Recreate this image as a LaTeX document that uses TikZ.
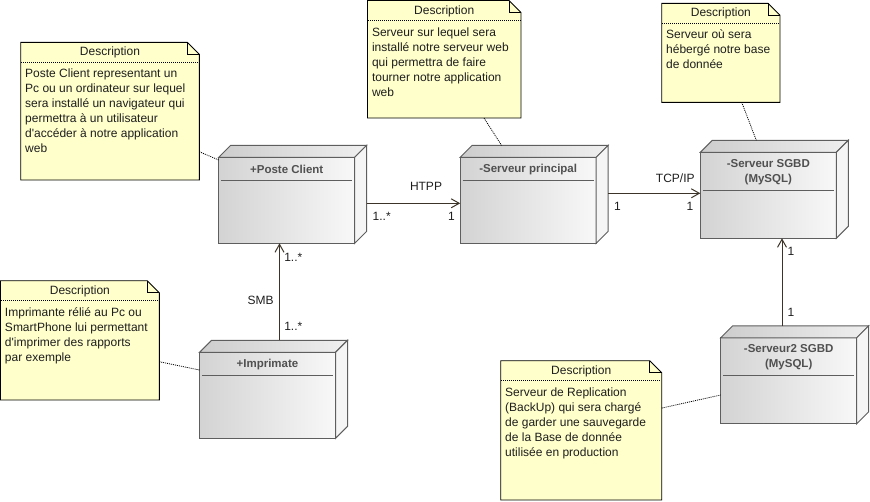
\documentclass[tikz,border=0pt]{standalone}
\usepackage{fontspec}
\setmainfont{Liberation Sans}
\newfontfamily\diagfont{Liberation Sans}
\usetikzlibrary{calc,arrows.meta}
\definecolor{notefill}{HTML}{FFFFCC}
\definecolor{edgec}{HTML}{5E5E5E}
\definecolor{linec}{HTML}{3C3428}
\definecolor{txtc}{HTML}{1E1E1E}
\definecolor{titlec}{HTML}{505050}
\definecolor{frontL}{HTML}{D3D3D3}
\definecolor{frontR}{HTML}{F8F8F8}
\definecolor{topL}{HTML}{CDCDCD}
\definecolor{topR}{HTML}{EFEFEF}
\definecolor{sidec}{HTML}{F5F5F5}
\tikzset{
  x=1pt, y=-1pt,
  every node/.style={font=\diagfont\fontsize{12}{15}\selectfont, text=txtc, inner sep=0pt, outer sep=0pt},
  front/.style={draw=edgec, line width=1pt, left color=frontL, right color=frontR,
    minimum width=136pt, minimum height=86pt},
  topface/.style={draw=edgec, line width=1pt, left color=topL, right color=topR},
  sideface/.style={draw=edgec, line width=1pt, fill=sidec},
  hline/.style={draw=edgec, line width=1pt},
  title/.style={font=\diagfont\fontsize{11.5}{15}\selectfont\bfseries, text=titlec, align=center},
  notebase/.style={inner sep=0pt},
  noteshape/.style={draw=black, line width=0.9pt, fill=notefill},
  notesep/.style={draw=black, line width=0.8pt, dash pattern=on 1pt off 1pt},
  notetext/.style={anchor=north west, align=left},
  dotlink/.style={draw=black, line width=0.8pt, dash pattern=on 1pt off 1pt},
  assoc/.style={draw=linec, line width=1pt, -{Straight Barb[length=8pt,width=9pt]}},
  mult/.style={},
}
% name, center, title, header-line offset, title offset
\newcommand\depnode[5]{%
  \node[front] (#1) at (#2) {};
  \draw[topface] (#1.north west) -- ++(12,-12) -- ($(#1.north east)+(12,-12)$) -- (#1.north east) -- cycle;
  \draw[sideface] (#1.north east) -- ++(12,-12) -- ($(#1.south east)+(12,-12)$) -- (#1.south east) -- cycle;
  \draw[hline] ($(#1.north west)+(2.5,#4)$) -- ($(#1.north east)+(-2.5,#4)$);
  \node[title] (#1-t) at ($(#1.north)+(0,#5)$) {#3};
}
% name, center, width, height, text
\newcommand\descnote[5]{%
  \node[notebase, minimum width=#3pt, minimum height=#4pt] (#1) at (#2) {};
  \path[noteshape] (#1.north west) -- ($(#1.north east)+(-12,0)$) -- ($(#1.north east)+(0,12)$)
     -- (#1.south east) -- (#1.south west) -- cycle;
  \draw[black, line width=0.9pt] ($(#1.north east)+(-12,0)$) -- ($(#1.north east)+(-12,12)$) -- ($(#1.north east)+(0,12)$);
  \node (#1-h) at ($(#1.north)+(0,10.5)$) {Description};
  \draw[notesep] ($(#1.north west)+(0.5,19.7)$) -- ($(#1.north east)+(-0.5,19.7)$);
  \node[notetext] (#1-x) at ($(#1.north west)+(4.5,24.5)$) {\rule{0pt}{11pt}#5};
}
\begin{document}
\begin{tikzpicture}
\useasboundingbox (0,0) rectangle (870,501);

% notes
\descnote{n1}{110,111.15}{178.6}{137.7}{Poste Client representant un\\Pc ou un ordinateur sur lequel\\sera installé un navigateur qui\\permettra à un utilisateur\\d'accéder à notre application\\web}
\descnote{n2}{444.25,59.25}{153.5}{117.5}{Serveur sur lequel sera\\installé notre serveur web\\qui permettra de faire\\tourner notre application\\web}
\descnote{n3}{720.85,52.8}{118.3}{99}{Serveur où sera\\hébergé notre base\\de donnée}
\descnote{n4}{79.9,340.35}{158.8}{119.3}{Imprimante rélié au Pc ou\\SmartPhone lui permettant\\d'imprimer des rapports\\par exemple}
\descnote{n5}{581.2,430.35}{161}{139.3}{Serveur de Replication\\(BackUp) qui sera chargé\\de garder une sauvegarde\\de la Base de donnée\\utilisée en production}

% nodes
\depnode{pc}{286.7,200.3}{+Poste Client}{23.4}{11.7}
\depnode{sp}{528.2,200.3}{-Serveur principal}{22.7}{12}
\depnode{sgbd}{768.3,195.3}{-Serveur SGBD\\(MySQL)}{38}{20}
\depnode{s2}{788.7,380.8}{-Serveur2 SGBD\\(MySQL)}{37.4}{19.2}
\depnode{im}{267.5,395.3}{+Imprimate}{22.7}{12}

% note links
\draw[dotlink] ($(n1.south east)+(0,-28.3)$) -- ($(pc.north west)+(0,2.7)$);
\draw[dotlink] ($(n2.south)+(39.75,0)$) -- ($(sp.north west)+(41.3,-12)$);
\draw[dotlink] ($(n3.south)+(20.85,0)$) -- ($(sgbd.north west)+(56,-12)$);
\draw[dotlink] ($(n4.east)+(0,21.35)$) -- ($(im.north west)+(0,17.7)$);
\draw[dotlink] ($(n5.east)+(0,-22.3)$) -- ($(s2.west)+(0,14.2)$);

% associations
\draw[assoc] ($(pc.east)+(12,3)$) -- ($(sp.west)+(0,3)$);
\node (l-htpp) at (426,186.7) {HTPP};
\node[mult] (m-htpp-s) at (381.7,216.7) {1..*};
\node[mult] (m-htpp-t) at (451.5,216.7) {1};

\draw[assoc] ($(sp.east)+(12,-7)$) -- ($(sgbd.west)+(0,-2)$);
\node (l-tcp) at (675.3,178.3) {TCP/IP};
\node[mult] (m-tcp-s) at (617.5,206) {1};
\node[mult] (m-tcp-t) at (690,206) {1};

\draw[assoc] ($(im.north)+(12,-12)$) -- ($(pc.south)+(-7.2,0)$);
\node (l-smb) at (260.5,300) {SMB};
\node[mult] (m-smb-t) at (293.3,257.7) {1..*};
\node[mult] (m-smb-s) at (293.3,326.7) {1..*};

\draw[assoc] ($(s2.north)+(-6.7,-12)$) -- ($(sgbd.south)+(13.7,0)$);
\node[mult] (m-rep-t) at (791,251.7) {1};
\node[mult] (m-rep-s) at (791,312.7) {1};
\end{tikzpicture}
\end{document}
